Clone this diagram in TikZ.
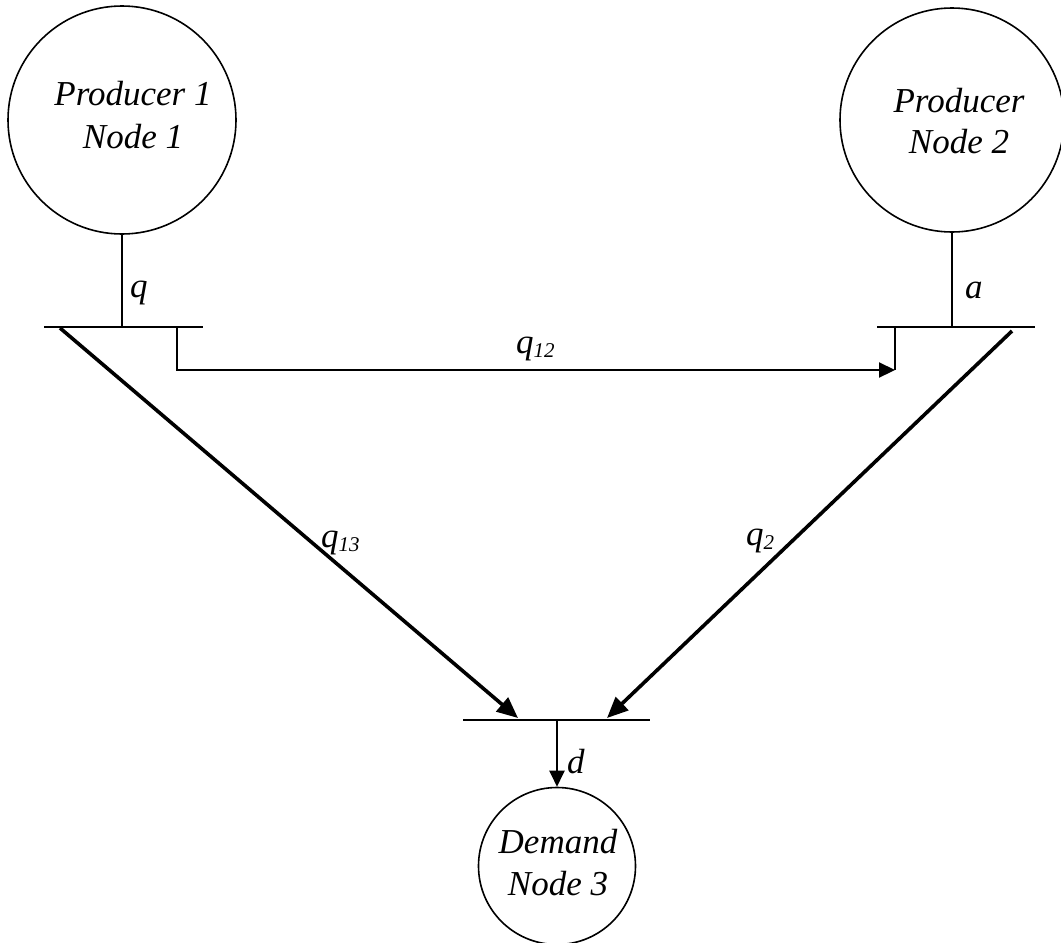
\documentclass[tikz,border=0pt]{standalone}
\usepackage{fontspec}
\setmainfont{Liberation Serif}
\usetikzlibrary{arrows.meta}
\newcommand\mysub[1]{\raisebox{-4pt}{\fontsize{21}{21}\selectfont #1}}
\begin{document}
\begin{tikzpicture}[x=1pt,y=-1pt,
  thinline/.style={line width=1.6pt},
  thickline/.style={line width=3.6pt},
  midline/.style={line width=2.2pt},
  txt/.style={font=\fontsize{35}{42}\selectfont\itshape, inner sep=0pt, anchor=base},
  lbl/.style={font=\fontsize{35}{42}\selectfont\itshape, inner sep=0pt, anchor=base west},
  circ/.style={draw, circle, line width=1.6pt, inner sep=0pt},
  smalltip/.style={-{Triangle[length=16pt,width=15pt]}},
  bigtip/.style={-{Triangle[length=21pt,width=18pt]}}]
\useasboundingbox (0,0) rectangle (1061,943);

% circles
\node[circ, minimum size=228pt] (c1) at (122,120) {};
\node[circ, minimum size=224pt] (c2) at (952,120) {};
\node[circ, minimum size=157pt] (c3) at (557,866) {};

% circle texts
\node[txt] (t1a) at (133,105) {Producer 1};
\node[txt] (t1b) at (133,148) {Node 1};
\node[txt] (t2a) at (959,112) {Producer};
\node[txt] (t2b) at (959,153) {Node 2};
\node[txt] (t3a) at (558,853) {Demand};
\node[txt] (t3b) at (558,895) {Node 3};

% bars
\coordinate (b1l) at (44,327);
\coordinate (b1r) at (203,327);
\coordinate (b1) at (122,327);
\coordinate (b2l) at (877,327);
\coordinate (b2r) at (1035,327);
\coordinate (b2) at (952,327);
\coordinate (b3l) at (463,720);
\coordinate (b3r) at (650,720);
\coordinate (b3) at (557,720);
\draw[thinline] (b1l) -- (b1r);
\draw[thinline] (b2l) -- (b2r);
\draw[thinline] (b3l) -- (b3r);

% stems
\draw[thinline] (c1.south) -- (b1);
\draw[thinline] (c2.south) -- (b2);
\draw[midline, smalltip] (b3) -- (c3.north);

% q12 connector
\coordinate (q12s) at (177,327);
\coordinate (q12c) at (177,370);
\coordinate (q12e) at (895,370);
\coordinate (q12t) at (895,327);
\draw[midline, smalltip] (q12s) -- (q12c) -- (q12e);
\draw[thinline] (q12t) -- (q12e);

% diagonals
\coordinate (d1s) at (60,328);
\coordinate (d1e) at (518,718);
\coordinate (d2s) at (1012,331);
\coordinate (d2e) at (607,718);
\draw[thickline, bigtip] (d1s) -- (d1e);
\draw[thickline, bigtip] (d2s) -- (d2e);

% labels
\node[lbl] (lq) at (130,297) {q};
\node[lbl] (la) at (965,298) {a};
\node[lbl] (ld) at (567,773) {d};
\node[lbl] (lq12) at (516,353) {q\mysub{12}};
\node[lbl] (lq13) at (321,547) {q\mysub{13}};
\node[lbl] (lq2) at (746,545) {q\mysub{2}};
\end{tikzpicture}
\end{document}
